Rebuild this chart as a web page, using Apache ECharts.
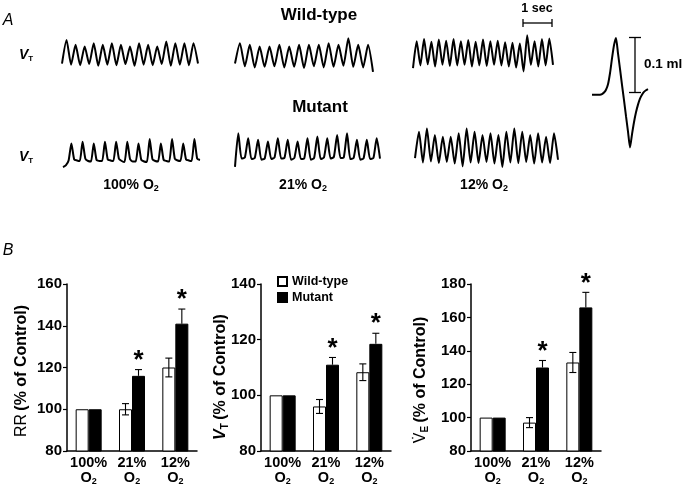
<!DOCTYPE html>
<html><head><meta charset="utf-8">
<script src="https://cdn.jsdelivr.net/npm/echarts@6/dist/echarts.min.js"></script>
<style>html,body{margin:0;padding:0;background:#fff}#c{width:689px;height:488px}</style>
</head><body><div id="c"></div>
<script>
const FONT = '"Liberation Sans", Arial, Helvetica, sans-serif';

// ---------- Panel A: tidal volume traces (units of 0.01 ml, successive turning points) ----------
const wt100 = [1.9, 6.2, 1.7, 5.3, 1.6, 5.0, 1.8, 5.6, 1.5, 5.3, 1.7, 5.6, 1.6, 5.3, 1.8, 5.0, 1.5, 5.6, 1.7, 5.3, 1.6, 5.0, 1.8, 5.9, 1.5, 5.6, 1.7, 5.6, 1.6, 5.6, 1.9];
const wt21 = [1.9, 5.6, 1.4, 5.3, 1.2, 5.0, 1.3, 5.0, 1.4, 5.3, 1.2, 5.0, 1.3, 5.3, 1.1, 5.3, 1.4, 5.3, 1.2, 5.6, 1.3, 5.3, 1.5, 6.5, 1.3, 5.3, 1.2, 5.3, 0.4];
const wt12 = [0.7, 5.6, 1.2, 6.0, 1.4, 5.5, 1.0, 5.9, 1.3, 5.7, 1.1, 6.0, 1.2, 5.6, 1.3, 5.8, 1.0, 5.5, 1.2, 5.9, 1.1, 5.6, 1.3, 5.7, 1.2, 5.4, 1.0, 5.3, 0.8, 5.2, 0.1, 6.7, 1.3, 5.6, 1.0, 6.0, 1.2, 6.1, 1.3];
const mut100 = [0.9, 1.2, 2.1, 5.2, 2.3, 2.1, 2.0, 5.5, 2.4, 2.0, 1.9, 5.2, 2.2, 2.0, 2.0, 5.5, 2.3, 2.1, 2.0, 5.5, 2.4, 2.0, 1.8, 5.5, 2.3, 1.9, 1.9, 5.2, 2.2, 1.9, 1.8, 6.0, 2.3, 2.0, 1.9, 5.2, 2.2, 2.0, 1.9, 6.0, 2.4, 2.1, 2.0, 5.2, 2.3, 2.1, 2.0, 6.0, 2.4, 2.2];
const mut21 = [0.4, 6.5, 1.9, 2.1, 5.6, 1.8, 2.0, 5.3, 1.7, 1.9, 5.0, 1.8, 2.1, 5.6, 1.9, 2.0, 5.3, 1.7, 2.0, 5.0, 1.8, 1.9, 5.6, 1.7, 2.0, 5.9, 1.8, 2.1, 5.6, 1.9, 2.2, 6.2, 2.0, 2.1, 6.5, 1.8, 2.0, 5.3, 1.7, 1.9, 5.3, 1.8, 2.0, 5.6, 1.9];
const mut12 = [1.8, 6.6, 1.0, 7.2, 1.2, 6.0, 0.9, 5.7, 1.1, 5.7, 0.8, 6.3, 0.3, 7.2, 1.0, 6.6, 0.9, 6.0, 1.1, 6.3, 0.8, 6.0, 0.2, 6.6, 1.0, 7.2, 0.9, 6.6, 1.1, 6.0, 0.8, 6.3, 1.0, 5.7, 0.9, 6.3, 1.5];
// single breath (0.01 ml, relative to baseline)
const bigBreath = [-0.4, -0.4, -0.4, -0.4, -0.4, -0.3, 0, 0.5, 1.5, 3.5, 6.2, 8.6, 9.9, 7.1, 4.3, 1.4, -1.4, -4.3, -7.1, -10.0, -7.6, -5.4, -3.6, -2.2, -1.1, -0.4, 0.1, 0.4, 0.6];
const scaleBarVolume = 10; // 0.1 ml

// ---------- Panel B ----------
const categories = ['100%', '21%', '12%'];
const seriesNames = ['Wild-type', 'Mutant'];
const rrWT = [100, 100, 120], rrWTErr = [0, 2.7, 4.5];
const rrMut = [100, 116, 141], rrMutErr = [0, 3, 7];
const vtWT = [100, 96, 108.3], vtWTErr = [0, 2.5, 3];
const vtMut = [100, 111, 118.5], vtMutErr = [0, 2.6, 3.8];
const veWT = [100, 97, 133], veWTErr = [0, 3, 6];
const veMut = [100, 130, 166], veMutErr = [0, 4.2, 9];
const significant = [false, true, true];
const rrTicks = [80, 100, 120, 140, 160];
const vtTicks = [80, 100, 120, 140];
const veTicks = [80, 100, 120, 140, 160, 180];

const chart = echarts.init(document.getElementById('c'));

const traces = [
  {d: wt100, g: {left: 62, top: 30, width: 136, height: 44}, y: [0, 8]},
  {d: wt21, g: {left: 235, top: 30, width: 138, height: 44}, y: [0, 8]},
  {d: wt12, g: {left: 413, top: 28, width: 140, height: 44}, y: [0, 8]},
  {d: mut100, g: {left: 63, top: 128, width: 137, height: 44}, y: [0, 8]},
  {d: mut21, g: {left: 235, top: 125, width: 145, height: 44}, y: [0, 8]},
  {d: mut12, g: {left: 415, top: 124, width: 143, height: 44}, y: [0, 8]},
  {d: bigBreath, g: {left: 592, top: 32, width: 56, height: 121}, y: [-11, 11]}
];
const panels = [
  {wt: rrWT, wtE: rrWTErr, mu: rrMut, muE: rrMutErr, ticks: rrTicks, g: {left: 67, top: 284, width: 130, height: 167}},
  {wt: vtWT, wtE: vtWTErr, mu: vtMut, muE: vtMutErr, ticks: vtTicks, g: {left: 261, top: 284, width: 130, height: 167}},
  {wt: veWT, wtE: veWTErr, mu: veMut, muE: veMutErr, ticks: veTicks, g: {left: 471, top: 284, width: 130, height: 167}}
];

const BW = 13;
const grid = [], xAxis = [], yAxis = [], series = [];
traces.forEach((t, i) => {
  grid.push(Object.assign({}, t.g));
  xAxis.push({type: 'category', gridIndex: i, boundaryGap: false, data: t.d.map((_, k) => k), show: false});
  yAxis.push({type: 'value', gridIndex: i, min: t.y[0], max: t.y[1], show: false});
  series.push({type: 'line', xAxisIndex: i, yAxisIndex: i, data: t.d, showSymbol: false, smooth: 0.2,
    lineStyle: {color: '#000', width: 2}, silent: true});
});

function makeErr(p) {
  return function (params, api) {
    const i = api.value(0);
    const c = api.coord([i, p.ticks[0]])[0];
    const xw = c - BW / 2, xm = c + BW / 2, cap = 3.5;
    const ln = (x1, y1, x2, y2) => ({type: 'line', shape: {x1, y1, x2, y2}, style: {stroke: '#000', lineWidth: 1.1}});
    const ch = [];
    if (p.wtE[i] > 0) {
      const yt = api.coord([i, p.wt[i] + p.wtE[i]])[1], yb = api.coord([i, p.wt[i] - p.wtE[i]])[1];
      ch.push(ln(xw, yt, xw, yb), ln(xw - cap, yt, xw + cap, yt), ln(xw - cap, yb, xw + cap, yb));
    }
    let ym = api.coord([i, p.mu[i]])[1];
    if (p.muE[i] > 0) {
      const yt = api.coord([i, p.mu[i] + p.muE[i]])[1];
      ch.push(ln(xm, ym, xm, yt), ln(xm - cap, yt, xm + cap, yt));
      ym = yt;
    }
    if (significant[i]) {
      ch.push({type: 'text', x: xm, y: ym - 9, style: {text: '*', font: 'bold 26px ' + FONT, fill: '#000', align: 'center', verticalAlign: 'middle'}});
    }
    return {type: 'group', children: ch};
  };
}

const lblRich = {
  a: {fontSize: 14.5, fontWeight: 'bold', fontFamily: FONT, lineHeight: 15.5, color: '#000'},
  s: {fontSize: 9, fontWeight: 'bold', fontFamily: FONT, lineHeight: 5, verticalAlign: 'bottom', color: '#000'}
};

panels.forEach((p, k) => {
  const gi = traces.length + k;
  grid.push(Object.assign({}, p.g));
  xAxis.push({type: 'category', gridIndex: gi, data: categories,
    axisLine: {lineStyle: {color: '#000', width: 1.5}}, axisTick: {show: false},
    axisLabel: {interval: 0, margin: 4, formatter: v => `{a|${v}}\n{a|O}{s|2}`, rich: lblRich}});
  yAxis.push({type: 'value', gridIndex: gi, min: p.ticks[0], max: p.ticks[p.ticks.length - 1], interval: p.ticks[1] - p.ticks[0],
    axisLine: {show: true, lineStyle: {color: '#000', width: 1.5}}, axisTick: {show: true, length: 4, lineStyle: {color: '#000', width: 1.2}},
    splitLine: {show: false},
    axisLabel: {color: '#000', fontWeight: 'bold', fontSize: 15, fontFamily: FONT, margin: 5}});
  series.push({type: 'bar', name: seriesNames[0], xAxisIndex: gi, yAxisIndex: gi, data: p.wt, barWidth: BW, barGap: '0%',
    itemStyle: {color: '#fff', borderColor: '#000', borderWidth: 1}, silent: true});
  series.push({type: 'bar', name: seriesNames[1], xAxisIndex: gi, yAxisIndex: gi, data: p.mu, barWidth: BW, barGap: '0%',
    itemStyle: {color: '#000', borderColor: '#000', borderWidth: 1}, silent: true});
  series.push({type: 'custom', xAxisIndex: gi, yAxisIndex: gi, data: categories.map((_, i) => [i]), encode: {x: 0},
    renderItem: makeErr(p), silent: true, z: 5});
});

function txt(id, x, y, text, font, align, rot, rich) {
  const el = {type: 'text', id, x, y, silent: true,
    style: {text, font, fill: '#000', align: align || 'center', verticalAlign: 'middle'}};
  if (rot) el.rotation = rot;
  if (rich) el.style.rich = rich;
  return el;
}
const B = 'bold ';
const richVT = {
  v: {fontSize: 14, fontWeight: 'bold', fontStyle: 'italic', fontFamily: FONT, lineHeight: 16},
  t: {fontSize: 8, fontWeight: 'bold', fontFamily: FONT, lineHeight: 6, verticalAlign: 'bottom'}
};
const richCond = {
  a: {fontSize: 14, fontWeight: 'bold', fontFamily: FONT, lineHeight: 16},
  s: {fontSize: 9, fontWeight: 'bold', fontFamily: FONT, lineHeight: 5, verticalAlign: 'bottom'}
};
const richTitle = {
  n: {fontSize: 16, fontFamily: FONT, lineHeight: 18},
  b: {fontSize: 16, fontWeight: 'bold', fontFamily: FONT, lineHeight: 18},
  v: {fontSize: 16, fontWeight: 'bold', fontStyle: 'italic', fontFamily: FONT, lineHeight: 18},
  vd: {fontSize: 16, fontFamily: FONT, lineHeight: 18},
  s: {fontSize: 10, fontWeight: 'bold', fontFamily: FONT, lineHeight: 7, verticalAlign: 'bottom'}
};
const graphics = [
  txt('A', 8, 21, 'A', 'italic 16px ' + FONT),
  txt('B', 8, 251, 'B', 'italic 16px ' + FONT),
  txt('wt', 319, 15, 'Wild-type', B + '17px ' + FONT),
  txt('mu', 320, 107, 'Mutant', B + '17px ' + FONT),
  txt('vt1', 19, 55, '{v|V}{t|T}', '', 'left', 0, richVT),
  txt('vt2', 19, 157, '{v|V}{t|T}', '', 'left', 0, richVT),
  txt('c1', 131, 185, '{a|100% O}{s|2}', '', 'center', 0, richCond),
  txt('c2', 303, 185, '{a|21% O}{s|2}', '', 'center', 0, richCond),
  txt('c3', 484, 185, '{a|12% O}{s|2}', '', 'center', 0, richCond),
  txt('sec', 537, 9, '1 sec', B + '12.5px ' + FONT),
  {type: 'line', id: 'sb1', silent: true, shape: {x1: 523, y1: 23, x2: 552, y2: 23}, style: {stroke: '#000', lineWidth: 1.3}},
  {type: 'line', id: 'sb2', silent: true, shape: {x1: 523, y1: 19, x2: 523, y2: 27}, style: {stroke: '#000', lineWidth: 1.3}},
  {type: 'line', id: 'sb3', silent: true, shape: {x1: 552, y1: 19, x2: 552, y2: 27}, style: {stroke: '#000', lineWidth: 1.3}},
  txt('ml', 644, 64, '0.1 ml', B + '13.5px ' + FONT, 'left'),
  txt('t1', 22, 371, '{n|RR} {b|(% of Control)}', '', 'center', Math.PI / 2, richTitle),
  txt('t2', 221, 377, '{v|V}{s|T} {b|(% of Control)}', '', 'center', Math.PI / 2, richTitle),
  txt('t3', 421, 380, '{vd|V\u0307}{s|E} {b|(% of Control)}', '', 'center', Math.PI / 2, richTitle)
];

chart.setOption({
  animation: false,
  backgroundColor: '#fff',
  textStyle: {fontFamily: FONT, color: '#000'},
  legend: {data: seriesNames, orient: 'vertical', left: 272, top: 270, itemWidth: 9, itemHeight: 9, itemGap: 3,
    icon: 'rect', selectedMode: false, textStyle: {fontWeight: 'bold', fontSize: 12.5, color: '#000', fontFamily: FONT}},
  grid, xAxis, yAxis, series,
  graphic: {elements: graphics}
});

// 0.1 ml scale bar placed with the single-breath axis scale
const bi = traces.length - 1;
const pA = chart.convertToPixel({xAxisIndex: bi, yAxisIndex: bi}, [21, 0]);
const pB = chart.convertToPixel({xAxisIndex: bi, yAxisIndex: bi}, [22, scaleBarVolume]);
const sx = (pA[0] + pB[0]) / 2;
chart.setOption({graphic: {elements: graphics.concat([
  {type: 'line', id: 'v1', silent: true, shape: {x1: sx, y1: pA[1], x2: sx, y2: pB[1]}, style: {stroke: '#000', lineWidth: 1.3}},
  {type: 'line', id: 'v2', silent: true, shape: {x1: sx - 6, y1: pA[1], x2: sx + 6, y2: pA[1]}, style: {stroke: '#000', lineWidth: 1.3}},
  {type: 'line', id: 'v3', silent: true, shape: {x1: sx - 6, y1: pB[1], x2: sx + 6, y2: pB[1]}, style: {stroke: '#000', lineWidth: 1.3}}
])}});
</script></body></html>
